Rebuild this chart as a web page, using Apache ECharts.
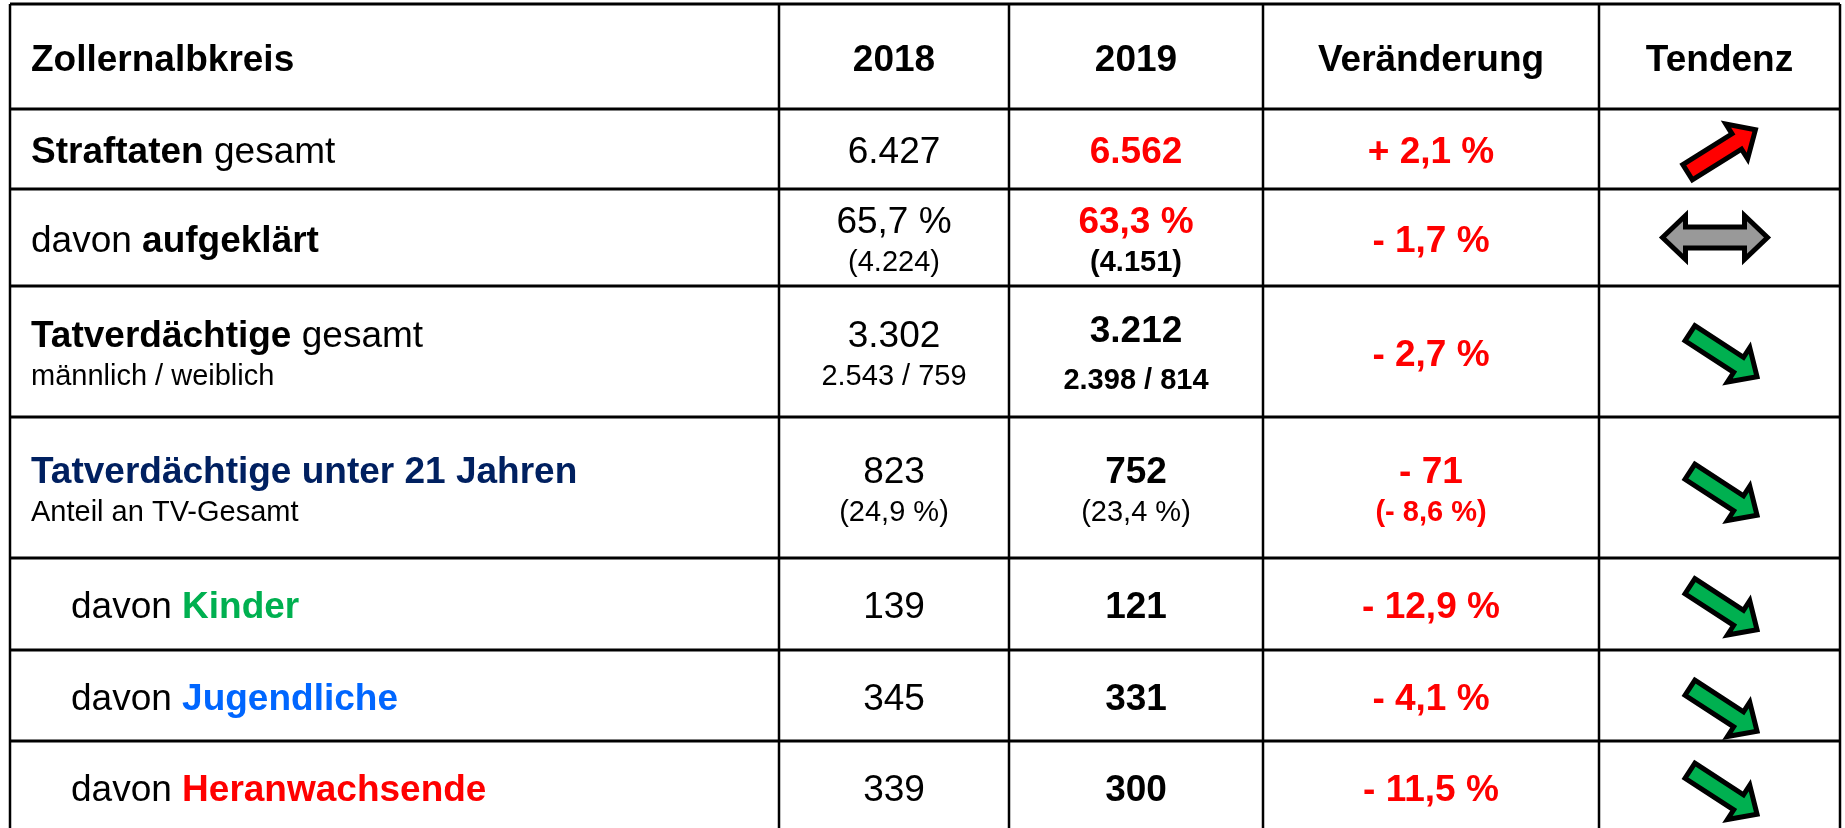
<!DOCTYPE html>
<html>
<head>
<meta charset="utf-8">
<script src="https://cdn.jsdelivr.net/npm/echarts@6/dist/echarts.min.js"></script>
<style>
html, body { margin: 0; padding: 0; background: #fff; }
#myChart { width: 1845px; height: 828px; }
</style>
</head>
<body>
<div id="myChart"></div>
<script>
// Tabellendaten
const header = ['Zollernalbkreis', '2018', '2019', 'Veränderung', 'Tendenz'];
const categories = ['Straftaten gesamt', 'davon aufgeklärt', 'Tatverdächtige gesamt',
    'Tatverdächtige unter 21 Jahren', 'davon Kinder', 'davon Jugendliche', 'davon Heranwachsende'];
const subCategories = ['', '', 'männlich / weiblich', 'Anteil an TV-Gesamt', '', '', ''];
const values2018 = ['6.427', '65,7 %', '3.302', '823', '139', '345', '339'];
const sub2018 = ['', '(4.224)', '2.543 / 759', '(24,9 %)', '', '', ''];
const values2019 = ['6.562', '63,3 %', '3.212', '752', '121', '331', '300'];
const sub2019 = ['', '(4.151)', '2.398 / 814', '(23,4 %)', '', '', ''];
const changes = ['+ 2,1 %', '- 1,7 %', '- 2,7 %', '- 71', '- 12,9 %', '- 4,1 %', '- 11,5 %'];
const subChanges = ['', '', '', '(- 8,6 %)', '', '', ''];
const trends = ['up', 'flat', 'down', 'down', 'down', 'down', 'down'];

// Hervorhebungen in der ersten Spalte (Wort, Stil)
const highlights = [['Straftaten', 'b'], ['aufgeklärt', 'b'], ['Tatverdächtige', 'b'],
    ['Tatverdächtige unter 21 Jahren', 'navy'], ['Kinder', 'green'], ['Jugendliche', 'blue'], ['Heranwachsende', 'red']];

// Layout
const colEdges = [10, 779, 1009, 1263, 1599, 1840];
const rowEdges = [4, 109, 189, 286, 417, 558, 650, 741, 832];
const trendShift = [2, 0, 3.5, 6, 4, 14, 6];   // vertikaler Versatz der Pfeile
const FONT = '"Liberation Sans", Arial, sans-serif';
const BIG = 37, SMALL = 29;
const RED = '#ff0000';

function font(size, bold) {
    return (bold ? 'bold ' : '') + size + 'px ' + FONT;
}
const rich = {
    b: { font: font(BIG, true), fill: '#000' },
    navy: { font: font(BIG, true), fill: '#002060' },
    green: { font: font(BIG, true), fill: '#00b050' },
    blue: { font: font(BIG, true), fill: '#0066ff' },
    red: { font: font(BIG, true), fill: RED }
};

function cellContent(col, row) {
    if (row === 0) {
        return { main: header[col], mainFont: font(BIG, true), mainFill: '#000' };
    }
    const r = row - 1;
    if (col === 0) {
        const h = highlights[r];
        return {
            main: categories[r].replace(h[0], '{' + h[1] + '|' + h[0] + '}'),
            mainFont: font(BIG, false), mainFill: '#000',
            sub: subCategories[r], subFont: font(SMALL, false), subFill: '#000'
        };
    }
    if (col === 1) {
        return { main: values2018[r], mainFont: font(BIG, false), mainFill: '#000',
            sub: sub2018[r], subFont: font(SMALL, false), subFill: '#000' };
    }
    if (col === 2) {
        return { main: values2019[r], mainFont: font(BIG, true), mainFill: r < 2 ? RED : '#000',
            sub: sub2019[r], subFont: font(SMALL, r < 3), subFill: '#000',
            wide: r === 2 };
    }
    return { main: changes[r], mainFont: font(BIG, true), mainFill: RED,
        sub: subChanges[r], subFont: font(SMALL, true), subFill: RED };
}

const cells = [];
for (let row = 0; row < rowEdges.length - 1; row++) {
    const nCols = row === 0 ? 5 : 4;
    for (let col = 0; col < nCols; col++) cells.push([col, row]);
}

function renderCell(params, api) {
    const col = api.value(0), row = api.value(1);
    const c = cellContent(col, row);
    const cy = (rowEdges[row] + rowEdges[row + 1]) / 2;
    let x, align;
    if (col === 0) {
        x = colEdges[0] + (row >= 5 ? 61 : 21);
        align = 'left';
    } else {
        x = (colEdges[col] + colEdges[col + 1]) / 2;
        align = 'center';
    }
    const children = [];
    const two = c.sub && c.sub.length;
    const dyMain = two ? (c.wide ? -20 : -15) : 4;
    const dySub = c.wide ? 29 : 25;
    children.push({
        type: 'text',
        style: { text: c.main, x: x, y: cy + dyMain, font: c.mainFont, fill: c.mainFill,
            align: align, verticalAlign: 'middle', rich: rich }
    });
    if (two) {
        children.push({
            type: 'text',
            style: { text: c.sub, x: x, y: cy + dySub, font: c.subFont, fill: c.subFill,
                align: align, verticalAlign: 'middle' }
        });
    }
    return { type: 'group', children: children };
}

function rotate(pts, ang, cx, cy) {
    const ca = Math.cos(ang), sa = Math.sin(ang);
    return pts.map(p => [cx + p[0] * ca - p[1] * sa, cy + p[0] * sa + p[1] * ca]);
}

function renderTrend(params, api) {
    const r = params.dataIndex;
    const t = trends[r];
    const mid = (colEdges[4] + colEdges[5]) / 2;
    const cy = (rowEdges[r + 1] + rowEdges[r + 2]) / 2 + trendShift[r];
    let pts, fill;
    if (t === 'flat') {
        const L = 105, h = 23, hw = 22, s = 10.5;
        pts = [[-L / 2, 0], [-L / 2 + h, -hw], [-L / 2 + h, -s], [L / 2 - h, -s], [L / 2 - h, -hw],
            [L / 2, 0], [L / 2 - h, hw], [L / 2 - h, s], [-L / 2 + h, s], [-L / 2 + h, hw]];
        pts = rotate(pts, 0, mid - 4.5, cy);
        fill = '#999999';
    } else {
        const L = 80, h = 22, hw = 20.5, s = 9;
        pts = [[-L / 2, -s], [L / 2 - h, -s], [L / 2 - h, -hw], [L / 2, 0],
            [L / 2 - h, hw], [L / 2 - h, s], [-L / 2, s]];
        const ang = t === 'up' ? -32 * Math.PI / 180 : 33 * Math.PI / 180;
        pts = rotate(pts, ang, mid + (t === 'up' ? 2 : 4), cy);
        fill = t === 'up' ? RED : '#00b050';
    }
    return {
        type: 'polygon',
        shape: { points: pts },
        style: { fill: fill, stroke: '#000', lineWidth: 5, lineJoin: 'miter' }
    };
}

// Gitterlinien
const lines = [];
rowEdges.forEach(y => lines.push({ type: 'line', shape: { x1: colEdges[0], y1: y, x2: colEdges[5], y2: y },
    style: { stroke: '#000', lineWidth: 3 } }));
colEdges.forEach(x => lines.push({ type: 'line', shape: { x1: x, y1: rowEdges[0], x2: x, y2: 840 },
    style: { stroke: '#000', lineWidth: 2.5 } }));

let myChart = echarts.init(document.getElementById('myChart'));
myChart.setOption({
    animation: false,
    backgroundColor: '#fff',
    graphic: { elements: lines },
    series: [
        { type: 'custom', coordinateSystem: 'none', renderItem: renderCell, data: cells, silent: true },
        { type: 'custom', coordinateSystem: 'none', renderItem: renderTrend,
            data: trends.map((t, i) => [i]), silent: true }
    ]
});
</script>
</body>
</html>
